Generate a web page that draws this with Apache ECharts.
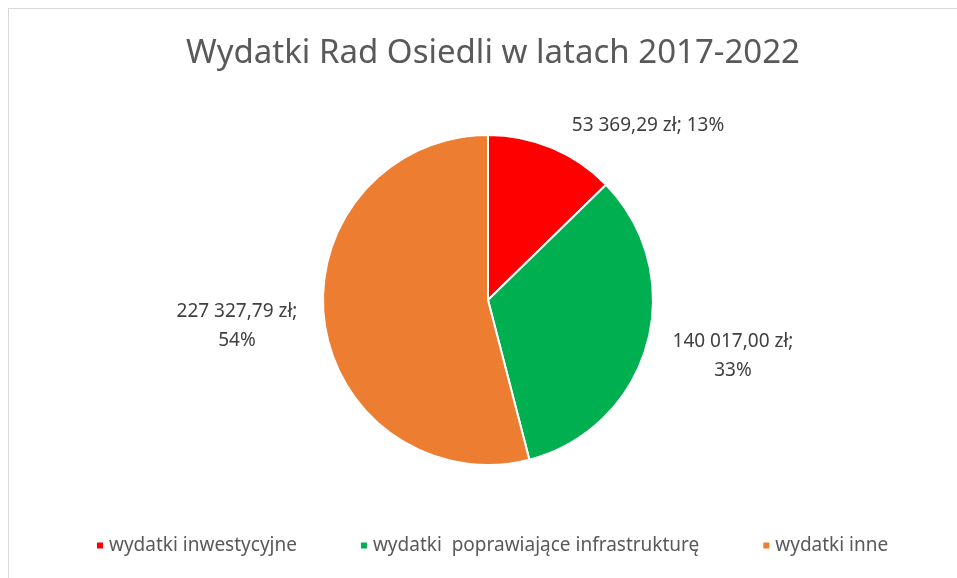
<!DOCTYPE html>
<html>
<head>
<meta charset="utf-8">
<script src="https://cdn.jsdelivr.net/npm/echarts@6/dist/echarts.min.js"></script>
<style>
  html, body { margin: 0; padding: 0; background: #fff; }
  #frame { position: absolute; left: 8px; top: 8px; width: 949px; height: 570px;
           border-top: 1px solid #d9d9d9; border-left: 1px solid #d9d9d9; }
  #chart { position: absolute; left: 0; top: 0; width: 957px; height: 578px; }
</style>
</head>
<body>
<div id="frame"></div>
<div id="chart"></div>
<script>
    let categories = ['wydatki inwestycyjne', 'wydatki  poprawiające infrastrukturę', 'wydatki inne'];
    let values = [53369.29, 140017.00, 227327.79];
    let colors = ['#FF0000', '#00B050', '#ED7D31'];

    let myChart = echarts.init(document.getElementById('chart'));

    // liczba w formacie 53 369,29
    function fmt(v) {
        let parts = v.toFixed(2).split('.');
        return parts[0].replace(/\B(?=(\d{3})+(?!\d))/g, ' ') + ',' + parts[1];
    }

    let pieData = [];
    for (let i = 0; i < categories.length; i++) {
        pieData.push({ name: categories[i], value: values[i], itemStyle: { color: colors[i] } });
    }

    // środki etykiet (jak w Excelu)
    let labelPos = [[648, 126], [733, 356], [237, 326]];

    let option = {
        backgroundColor: 'transparent',
        title: {
            text: 'Wydatki Rad Osiedli w latach 2017-2022',
            left: 181,
            top: 32,
            textStyle: { fontFamily: 'Noto Sans', fontSize: 33, fontWeight: 'normal', color: '#595959' }
        },
        legend: {
            bottom: 18,
            left: 90,
            icon: 'rect',
            itemWidth: 8,
            itemHeight: 8,
            itemGap: 62,
            textStyle: { fontFamily: 'Noto Sans', fontSize: 19, color: '#595959' },
            data: categories
        },
        series: [{
            type: 'pie',
            center: [488, 300],
            radius: 165,
            startAngle: 90,
            clockwise: true,
            percentPrecision: 0,
            animation: false,
            itemStyle: { borderColor: '#fff', borderWidth: 2 },
            label: {
                show: true,
                position: 'outside',
                fontFamily: 'Noto Sans',
                fontSize: 19,
                color: '#404040',
                align: 'center',
                lineHeight: 29,
                formatter: function (p) {
                    return fmt(p.value) + ' zł;' + (p.dataIndex === 0 ? ' ' : '\n') + p.percent + '%';
                }
            },
            labelLine: { show: false },
            labelLayout: function (params) {
                let pos = labelPos[params.dataIndex];
                return { x: pos[0], y: pos[1], align: 'center', verticalAlign: 'middle' };
            },
            data: pieData
        }]
    };

    myChart.setOption(option);
</script>
</body>
</html>
